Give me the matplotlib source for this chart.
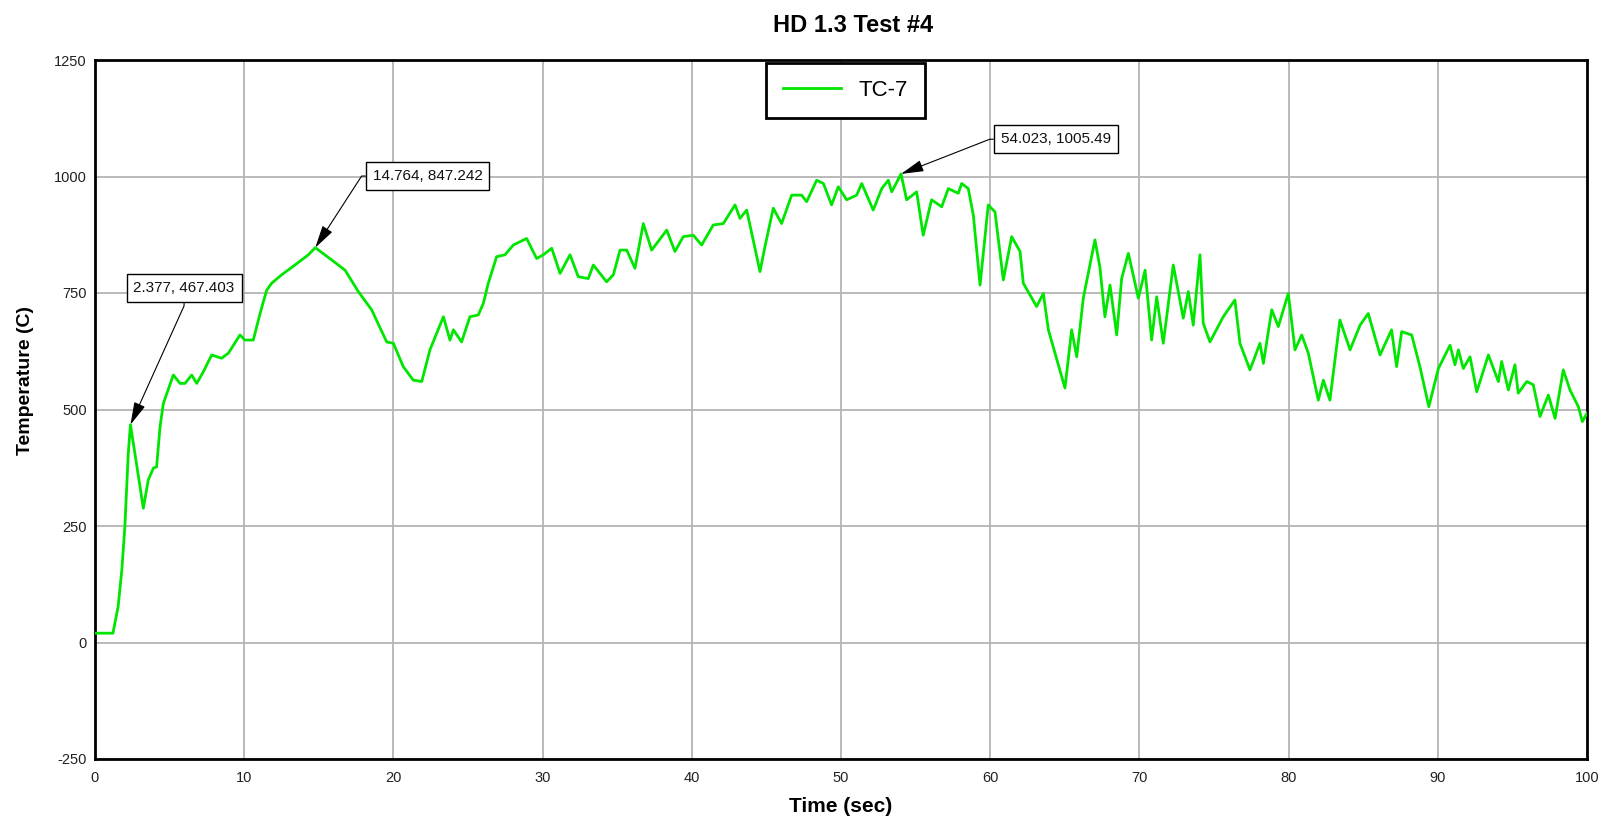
import matplotlib
matplotlib.use("Agg")
import matplotlib.pyplot as plt

# TC-7 trace
time_s = [0, 1.2, 1.55, 1.8, 2.0, 2.23, 2.377, 3.24, 3.57, 3.91, 4.13, 4.36, 4.58, 5.25, 5.7,
          6.03, 6.48, 6.82, 7.26, 7.82, 8.49, 8.94, 9.72, 10.05, 10.61, 10.95, 11.28, 11.51,
          11.84, 12.51, 13.4, 14.3, 14.764, 15.86, 16.76, 17.65, 18.54, 19.55, 20.0, 20.66,
          21.33, 21.9, 22.45, 23.35, 23.79, 24.02, 24.57, 25.13, 25.69, 26.03, 26.36, 26.92,
          27.48, 28.04, 28.93, 29.6, 30.05, 30.61, 31.17, 31.84, 32.39, 33.06, 33.4, 34.29,
          34.74, 35.19, 35.64, 36.19, 36.75, 37.31, 38.32, 38.87, 39.43, 40.1, 40.66, 41.44,
          42.11, 42.9, 43.23, 43.68, 44.57, 44.9, 45.46, 46.02, 46.69, 47.36, 47.7, 48.37,
          48.82, 49.37, 49.82, 50.38, 51.05, 51.39, 52.16, 52.73, 53.17, 53.4, 54.023, 54.4,
          55.07, 55.51, 56.07, 56.75, 57.19, 57.86, 58.09, 58.53, 58.87, 59.32, 59.87, 60.32,
          60.88, 61.44, 62.0, 62.22, 63.11, 63.56, 63.9, 65.01, 65.46, 65.8, 66.24, 67.02,
          67.35, 67.69, 68.03, 68.48, 68.81, 69.26, 69.93, 70.38, 70.82, 71.16, 71.6, 72.27,
          72.94, 73.28, 73.61, 74.06, 74.28, 74.73, 75.62, 76.4, 76.74, 77.41, 78.08, 78.31,
          78.87, 79.31, 79.98, 80.43, 80.88, 81.32, 81.99, 82.33, 82.77, 83.44, 84.12, 84.79,
          85.34, 86.13, 86.9, 87.24, 87.58, 88.25, 88.8, 89.4, 90.04, 90.82, 91.15, 91.38,
          91.71, 92.16, 92.61, 93.39, 94.06, 94.28, 94.73, 95.17, 95.39, 95.96, 96.4, 96.85,
          97.41, 97.86, 98.41, 98.86, 99.42, 99.69, 100.0]
temp_c = [20, 20, 77, 156, 248, 406, 467.403, 288, 349, 374, 377, 463, 513, 574, 556,
          556, 574, 556, 581, 617, 610, 621, 660, 649, 649, 692, 731, 756,
          771, 789, 810, 832, 847.242, 821, 799, 753, 714, 645, 642, 592,
          563, 560, 628, 699, 649, 671, 645, 699, 703, 728, 771, 828,
          832, 853, 867, 824, 832, 846, 792, 832, 785, 781, 810, 774,
          789, 842, 842, 803, 899, 842, 885, 839, 871, 874, 853, 896,
          899, 939, 910, 928, 796, 849, 932, 899, 960, 960, 946, 992,
          985, 939, 978, 950, 960, 985, 928, 974, 992, 967, 1005.49, 950,
          967, 874, 950, 935, 974, 964, 985, 974, 917, 767, 939, 924,
          778, 871, 839, 771, 721, 749, 671, 546, 671, 613, 739, 864,
          806, 699, 767, 660, 781, 835, 739, 799, 649, 742, 642, 810,
          696, 753, 681, 832, 685, 645, 699, 735, 642, 585, 642, 599,
          714, 678, 749, 628, 660, 621, 520, 563, 520, 692, 628, 681,
          706, 617, 671, 592, 667, 660, 592, 506, 588, 638, 596, 628,
          588, 613, 538, 617, 560, 603, 542, 596, 535, 560, 553, 485,
          531, 481, 585, 542, 506, 474, 492]

# labelled points
peaks_t = [2.377, 14.764, 54.023]
peaks_v = [467.403, 847.242, 1005.49]
peak_labels = ["2.377, 467.403", "14.764, 847.242", "54.023, 1005.49"]

x_ticks = list(range(0, 101, 10))
y_ticks = list(range(-250, 1251, 250))

plt.rcParams["font.family"] = ["Liberation Sans", "DejaVu Sans"]
plt.rcParams["axes.unicode_minus"] = False

fig = plt.figure(figsize=(16.06, 8.25), dpi=100)
ax = fig.add_axes([95 / 1606, 1 - 759 / 825, 1492 / 1606, 699 / 825])

ax.plot(time_s, temp_c, color="#00e600", lw=2.0, label="TC-7", zorder=3)

ax.set_xlim(0, 100)
ax.set_ylim(-250, 1250)
ax.set_xticks(x_ticks)
ax.set_yticks(y_ticks)
ax.grid(True, color="#b4b4b4", lw=1.3)
ax.set_axisbelow(True)
ax.tick_params(length=0, labelsize=10.5, labelcolor="#222222")
ax.tick_params(axis="x", pad=9)
ax.tick_params(axis="y", pad=6)
for sp in ax.spines.values():
    sp.set_linewidth(2)
    sp.set_color("black")

fig.text(853 / 1606, 1 - 25 / 825, "HD 1.3 Test #4", fontsize=17, fontweight="bold",
         ha="center", va="center")
fig.text(841 / 1606, 1 - 807 / 825, "Time (sec)", fontsize=15, fontweight="bold",
         ha="center", va="center")
fig.text(26 / 1606, 1 - 380 / 825, "Temperature (C)", fontsize=14, fontweight="bold",
         ha="center", va="center", rotation=90)

leg = ax.legend(loc="upper center", bbox_to_anchor=(0.503, 1.0), borderaxespad=0.15,
                fontsize=16, handlelength=2.6, borderpad=0.75, fancybox=False,
                framealpha=1, edgecolor="black")
leg.get_frame().set_linewidth(2)

# annotation boxes (text centre in data coords) and where the arrow leaves the box
box_xy = [(5.97, 761), (22.29, 1001), (64.4, 1080)]
arrow_from = [((0.5, 0.0), -90), ((0.0, 0.5), 180), ((0.0, 0.5), 180)]
for (px, py), lab, (tx, ty), (rel, ang) in zip(zip(peaks_t, peaks_v), peak_labels, box_xy, arrow_from):
    ax.annotate(lab, xy=(px, py), xytext=(tx, ty), textcoords="data",
                ha="center", va="center", fontsize=11, color="#111111",
                bbox=dict(boxstyle="square,pad=0.45", fc="white", ec="black", lw=1),
                arrowprops=dict(arrowstyle="-|>,head_length=0.7,head_width=0.18",
                                mutation_scale=20, color="black", lw=0.8,
                                relpos=rel, shrinkA=0, shrinkB=0,
                                connectionstyle=f"arc,angleA={ang},armA=11,angleB=0,armB=0,rad=0"),
                zorder=5)

fig.savefig("out.png", dpi=100)
